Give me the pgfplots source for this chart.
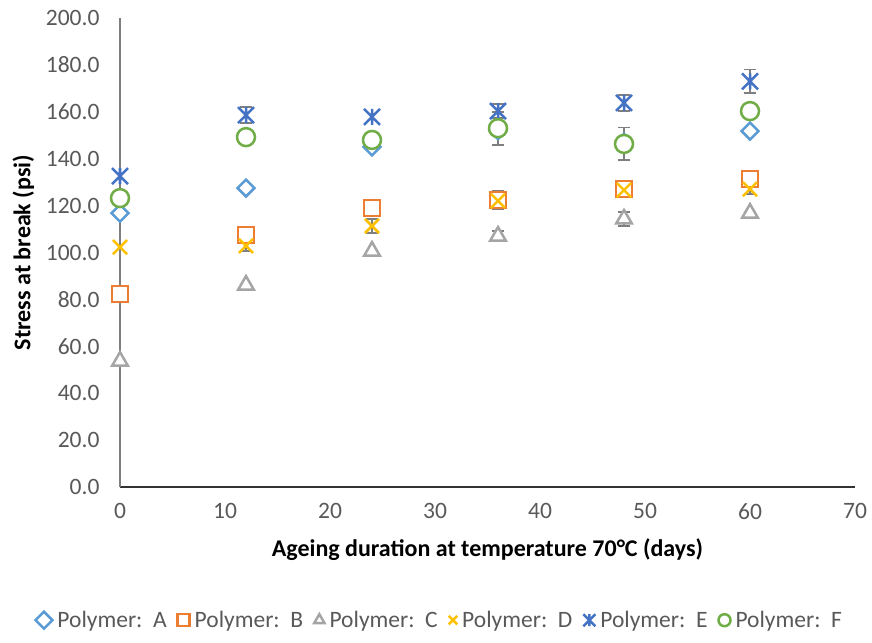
\documentclass[border=0pt]{standalone}
\usepackage{fontspec}
\setmainfont{Carlito}
\usepackage{pgfplots}
\usepackage{pgfplotstable}
\pgfplotsset{compat=1.18}
\definecolor{cA}{HTML}{5B9BD5}
\definecolor{cB}{HTML}{ED7D31}
\definecolor{cC}{HTML}{A5A5A5}
\definecolor{cD}{HTML}{FFC000}
\definecolor{cE}{HTML}{4472C4}
\definecolor{cF}{HTML}{70AD47}
\definecolor{txt}{HTML}{595959}
\definecolor{errc}{HTML}{7F7F7F}
\pgfdeclareplotmark{xstar}{%
  \pgfpathmoveto{\pgfqpoint{-\pgfplotmarksize}{-\pgfplotmarksize}}%
  \pgfpathlineto{\pgfqpoint{\pgfplotmarksize}{\pgfplotmarksize}}%
  \pgfpathmoveto{\pgfqpoint{-\pgfplotmarksize}{\pgfplotmarksize}}%
  \pgfpathlineto{\pgfqpoint{\pgfplotmarksize}{-\pgfplotmarksize}}%
  \pgfpathmoveto{\pgfqpoint{0pt}{-\pgfplotmarksize}}%
  \pgfpathlineto{\pgfqpoint{0pt}{\pgfplotmarksize}}%
  \pgfusepathqstroke}

\pgfplotstableread{
x y
0 116.8
12 127.5
24 145.0
36 152.0
48 147.0
60 151.8
}\dataA
\pgfplotstableread{
x y
0 82.3
12 107.5
24 119.0
36 122.4
48 127.0
60 131.3
}\dataB
\pgfplotstableread{
x y
0 53.7
12 86.1
24 100.6
36 107.0
48 114.3
60 116.8
}\dataC
\pgfplotstableread{
x y
0 102.3
12 102.8
24 111.3
36 122.0
48 126.6
60 127.0
}\dataD
\pgfplotstableread{
x y
0 132.6
12 158.6
24 157.8
36 160.3
48 163.8
60 173.0
}\dataE
\pgfplotstableread{
x y
0 123.2
12 149.2
24 148.0
36 153.0
48 146.3
60 160.3
}\dataF
% error bars (only points that show one)
\pgfplotstableread{
x y e
36 122.4 4
}\errB
\pgfplotstableread{
x y e
36 107.0 2
48 114.3 3
}\errC
\pgfplotstableread{
x y e
12 102.8 2
24 111.3 3
36 122.0 2
60 127.0 2
}\errD
\pgfplotstableread{
x y e
12 158.6 3.5
36 160.3 3
48 163.8 3.5
60 173.0 5
}\errE
\pgfplotstableread{
x y e
36 153.0 7
48 146.3 7
}\errF

\begin{document}
\begin{tikzpicture}
\begin{axis}[
  scale only axis,
  width=735pt, height=469pt,
  xmin=0, xmax=70, ymin=0, ymax=200,
  xtick={0,10,...,70}, ytick={0,20,...,200},
  axis x line*=bottom, axis y line*=left,
  x axis line style={draw=black!80, line width=1.5pt, -},
  y axis line style={draw=errc, line width=2pt, -},
  major tick length=0pt,
  tick label style={font=\fontsize{23.5}{28}\selectfont, text=txt},
  /pgf/number format/assume math mode=true,
  y tick label style={/pgf/number format/fixed, /pgf/number format/fixed zerofill, /pgf/number format/precision=1, xshift=-17pt},
  x tick label style={yshift=-13pt},
  xlabel={Ageing duration at temperature 70°C (days)},
  ylabel={Stress at break (psi)},
  label style={font=\bfseries\fontsize{24}{28}\selectfont, text=black},
  xlabel style={yshift=-12pt},
  ylabel style={yshift=5pt},
  legend columns=6,
  legend style={draw=none, fill=none, at={(0.435,-0.284)}, anchor=center,
    font=\fontsize{23.5}{28}\selectfont, text=txt,
    /tikz/every odd column/.append style={column sep=3pt},
    /tikz/every even column/.append style={column sep=9pt}},
  legend image code/.code={\draw[#1, mark size=6pt] plot coordinates {(0cm,0cm)};},
  error bars/error bar style={draw=errc, line width=1.8pt},
  error bars/error mark options={rotate=90, mark size=6pt, draw=errc, line width=1.8pt},
]
\coordinate (ll) at (rel axis cs:0,0);
\coordinate (ur) at (rel axis cs:1,1);
% error bars
\addplot[forget plot, only marks, mark=none, error bars/.cd, y dir=both, y explicit] table[x=x, y=y, y error=e] {\errB};
\addplot[forget plot, only marks, mark=none, error bars/.cd, y dir=both, y explicit] table[x=x, y=y, y error=e] {\errC};
\addplot[forget plot, only marks, mark=none, error bars/.cd, y dir=both, y explicit] table[x=x, y=y, y error=e] {\errD};
\addplot[forget plot, only marks, mark=none, error bars/.cd, y dir=both, y explicit] table[x=x, y=y, y error=e] {\errE};
\addplot[forget plot, only marks, mark=none, error bars/.cd, y dir=both, y explicit] table[x=x, y=y, y error=e] {\errF};
% series
\addplot[only marks, mark=square*, mark size=6pt, mark options={rotate=45}, draw=cA, fill=white, line width=2.5pt] table[x=x,y=y] {\dataA};
\addlegendentry{Polymer:~~A}
\addplot[only marks, mark=square*, mark size=8pt, draw=cB, fill=white, line width=2.5pt] table[x=x,y=y] {\dataB};
\addlegendentry{Polymer:~~B}
\addplot[only marks, mark=triangle*, mark size=9pt, draw=cC, fill=white, line width=2.5pt] table[x=x,y=y] {\dataC};
\addlegendentry{Polymer:~~C}
\addplot[only marks, mark=x, mark size=10pt, draw=cD, line width=2.5pt] table[x=x,y=y] {\dataD};
\addlegendentry{Polymer:~~D}
\addplot[only marks, mark=xstar, mark size=8pt, draw=cE, line width=2.5pt] table[x=x,y=y] {\dataE};
\addlegendentry{Polymer:~~E}
\addplot[only marks, mark=*, mark size=9pt, draw=cF, fill=white, line width=2.5pt] table[x=x,y=y] {\dataF};
\addlegendentry{Polymer:~~F}
\end{axis}
\pgfresetboundingbox
\path ([shift={(-120pt,-155pt)}]ll) rectangle ([shift={(17pt,18pt)}]ur);
\end{tikzpicture}
\end{document}
